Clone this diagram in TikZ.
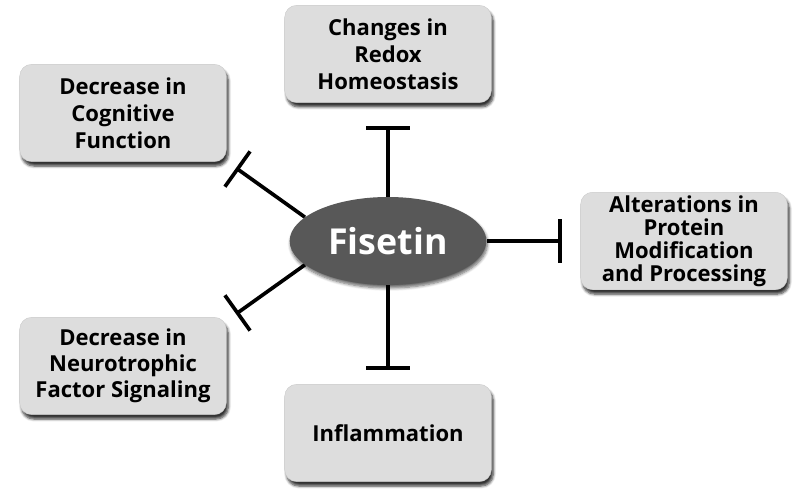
\documentclass[tikz,border=0pt]{standalone}
\usepackage{fontspec}
\setmainfont{Open Sans}
\usetikzlibrary{shadows.blur,arrows.meta,shapes.geometric}
\begin{document}
\begin{tikzpicture}[x=0.3mm,y=-0.3mm,
  box/.style={rectangle, rounded corners=3.6mm, fill=boxgray, draw=boxedge, line width=0.3pt,
    minimum width=62mm, minimum height=29.2mm, align=center, inner sep=1mm,
    font=\fontsize{18.8}{23}\selectfont\bfseries,
    blur shadow={shadow xshift=0.6mm, shadow yshift=-1.3mm, shadow blur steps=6, shadow opacity=80, shadow blur radius=0.8mm}},
  tight/.style={font=\fontsize{18.8}{19.6}\selectfont\bfseries},
  mid/.style={font=\fontsize{18.8}{22}\selectfont\bfseries},
  hub/.style={ellipse, fill=hubgray, minimum width=59mm, minimum height=26.4mm, inner sep=0pt,
    text=white, font=\fontsize{30.5}{34}\selectfont\bfseries,
    blur shadow={shadow xshift=0.3mm, shadow yshift=-0.9mm, shadow blur steps=6, shadow opacity=60, shadow blur radius=0.9mm}},
  inh/.style={line width=1.1mm, -{Bar[width=13mm, line width=1.1mm]}}
]
\definecolor{boxgray}{RGB}{221,221,221}
\definecolor{boxedge}{RGB}{200,200,200}
\definecolor{hubgray}{RGB}{88,88,88}
\useasboundingbox (0,0) rectangle (800,499);
\coordinate (tU) at (388,126);
\coordinate (tR) at (562,241);
\coordinate (tD) at (388,370);
\coordinate (tUL) at (236,168);
\coordinate (tDL) at (236,314);
\node[box] (redox) at (388,54) {Changes in\\Redox\\Homeostasis};
\node[box] (cog) at (123,113) {Decrease in\\Cognitive\\Function};
\node[box, tight] (prot) at (684,241) {Alterations in\\Protein\\Modification\\and Processing};
\node[box, mid] (neuro) at (123,366) {Decrease in\\Neurotrophic\\Factor Signaling};
\node[box] (infl) at (388,433) {Inflammation};
\path (388,241) node[ellipse, minimum width=59mm, minimum height=26.4mm] (geo) {};
\draw[inh] (geo.90) -- (tU);
\draw[inh] (geo.0) -- (tR);
\draw[inh] (geo.270) -- (tD);
\draw[inh] (geo.164) -- (tUL);
\draw[inh] (geo.196) -- (tDL);
\node[hub] (fis) at (388,241) {Fisetin};
\end{tikzpicture}
\end{document}
